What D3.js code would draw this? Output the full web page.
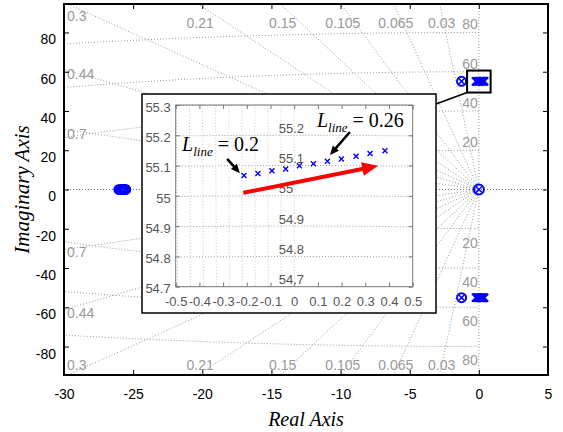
<!DOCTYPE html>
<html>
<head>
<meta charset="utf-8">
<script src="https://cdn.jsdelivr.net/npm/d3@7"></script>
<style>
  body { margin: 0; background: #fff; }
  text { font-family: "Liberation Sans", Arial, sans-serif; }
</style>
</head>
<body>
<svg id="chart" width="563" height="432"></svg>
<script>
// swept eigenvalues (L_line 0.2 -> 0.26)
const lineRe = [-0.212, -0.153, -0.094, -0.036, 0.022, 0.081, 0.140, 0.199, 0.261, 0.320, 0.383];
const lineIm = [55.067, 55.074, 55.083, 55.089, 55.099, 55.106, 55.114, 55.122, 55.131, 55.140, 55.149];
// real pole cluster on the left
const farRe = [-26.05, -25.97, -25.9, -25.84, -25.78, -25.73, -25.68, -25.64, -25.6, -25.56, -25.52];
// pole/zero pairs
const pzRe = [-1.25, -1.25, 0];
const pzIm = [55.1, -55.1, 0];

const zetaVals = [0.03, 0.065, 0.105, 0.15, 0.21, 0.3, 0.44, 0.7];
const wnVals = [20, 40, 60, 80];
const xTicks = [-30, -25, -20, -15, -10, -5, 0, 5];
const yTicks = [-80, -60, -40, -20, 0, 20, 40, 60, 80];

const insetXTicks = [-0.5, -0.4, -0.3, -0.2, -0.1, 0, 0.1, 0.2, 0.3, 0.4, 0.5];
const insetXLabels = ["-0.5", "-0.4", "-0.3", "-0.2", "-0.1", "0", "0.1", "0.2", "0.3", "0.4", "0.5"];
const insetYTicks = [54.7, 54.8, 54.9, 55, 55.1, 55.2, 55.3];
const insetYLabels = ["54.7", "54.8", "54.9", "55", "55.1", "55.2", "55.3"];
const insetZeta = [0, 0.001, 0.002, 0.003, 0.004, 0.005, 0.006, 0.007, 0.008, 0.009];
const insetWnLabels = ["54.7", "54.8", "54.9", "55", "55.1", "55.2"];

// zoom rectangle on the main plot
const boxRe = [-0.85, 0.85];
const boxIm = [49.4, 60.6];

// annotations in the inset (data coords)
const redArrow = [[-0.215, 55.010], [0.354, 55.099]];
const arrowA = [[-0.283, 55.122], [-0.229, 55.075]];
const arrowB = [[0.235, 55.211], [0.151, 55.135]];
const textA = { re: -0.473, im: 55.148, value: "0.2" };
const textB = { re: 0.096, im: 55.227, value: "0.26" };

const svg = d3.select("#chart");
const M = { left: 64, right: 548, top: 4, bottom: 375 };

const x = d3.scaleLinear().domain([-30, 5]).range([M.left, M.right]);
const y = d3.scaleLinear().domain([-94.5, 94.5]).range([M.bottom, M.top]);

const defs = svg.append("defs");
defs.append("clipPath").attr("id", "clipMain").append("rect")
  .attr("x", M.left).attr("y", M.top).attr("width", M.right - M.left).attr("height", M.bottom - M.top);

const grid = svg.append("g").attr("clip-path", "url(#clipMain)")
  .attr("fill", "none").attr("stroke", "#999").attr("stroke-width", 1).attr("stroke-dasharray", "1,2");

// natural frequency circles
const arc = d3.range(90, 270.5, 0.5);
wnVals.forEach(wn => {
  grid.append("path")
    .attr("d", d3.line()(arc.map(a => [x(wn * Math.cos(a * Math.PI / 180)), y(wn * Math.sin(a * Math.PI / 180))])));
});
// damping lines
zetaVals.forEach(z => {
  const R = 400, s = Math.sqrt(1 - z * z);
  [1, -1].forEach(sg => {
    grid.append("line").attr("x1", x(0)).attr("y1", y(0))
      .attr("x2", x(-R * z)).attr("y2", y(sg * R * s));
  });
});
grid.append("line").attr("x1", x(-30)).attr("x2", x(5)).attr("y1", y(0)).attr("y2", y(0)).attr("stroke", "#777");
grid.append("line").attr("x1", x(0)).attr("x2", x(0)).attr("y1", y(-94.5)).attr("y2", y(94.5));

// sgrid labels
const lab = svg.append("g").attr("fill", "#999").style("font-size", "14px");
zetaVals.forEach(z => {
  const s = Math.sqrt(1 - z * z) / z;
  const xTop = -94.5 / s;
  const yLeft = 30 * s;
  const t = String(z);
  if (xTop > -28.5) {
    lab.append("text").attr("x", x(xTop) + 2).attr("y", M.top + 19).attr("dy", "0.35em").attr("text-anchor", "middle").text(t);
    lab.append("text").attr("x", x(xTop) + 2).attr("y", M.bottom - 10).attr("dy", "0.35em").attr("text-anchor", "middle").text(t);
  } else if (yLeft > 90) {
    lab.append("text").attr("x", M.left + 3).attr("y", M.top + 12).attr("dy", "0.35em").text(t);
    lab.append("text").attr("x", M.left + 3).attr("y", M.bottom - 10).attr("dy", "0.35em").text(t);
  } else {
    lab.append("text").attr("x", M.left + 3).attr("y", y(yLeft) + 5).attr("dy", "0.35em").text(t);
    lab.append("text").attr("x", M.left + 3).attr("y", y(-yLeft) + 3).attr("dy", "0.35em").text(t);
  }
});
wnVals.forEach(wn => {
  lab.append("text").attr("x", x(0) - 1).attr("y", y(wn) - 8).attr("dy", "0.35em").attr("text-anchor", "end").text(wn);
  lab.append("text").attr("x", x(0) - 1).attr("y", y(-wn) + 14).attr("dy", "0.35em").attr("text-anchor", "end").text(wn);
});

// markers
const blue = "#0000ff";
const marks = svg.append("g").attr("fill", "none").attr("stroke", blue);
function xMark(g, cx, cy, h, w) {
  g.append("path").attr("d", `M${cx - h},${cy - h}L${cx + h},${cy + h}M${cx - h},${cy + h}L${cx + h},${cy - h}`)
    .attr("stroke-width", w);
}
lineRe.forEach((re, i) => {
  xMark(marks, x(re), y(lineIm[i]), 4, 2);
  xMark(marks, x(re), y(-lineIm[i]), 4, 2);
});
pzRe.forEach((re, i) => {
  const r = i === 2 ? 5 : 4.5;
  marks.append("circle").attr("cx", x(re)).attr("cy", y(pzIm[i])).attr("r", r).attr("stroke-width", 2);
  xMark(marks, x(re), y(pzIm[i]), r * 0.6, 1.5);
});
farRe.forEach(re => {
  marks.append("circle").attr("cx", x(re)).attr("cy", y(0)).attr("r", 4.5).attr("stroke-width", 1.6);
});

// zoom box and connector
svg.append("rect")
  .attr("x", x(boxRe[0])).attr("y", y(boxIm[1]))
  .attr("width", x(boxRe[1]) - x(boxRe[0])).attr("height", y(boxIm[0]) - y(boxIm[1]))
  .attr("fill", "none").attr("stroke", "#000").attr("stroke-width", 2);

const IB = { left: 142, top: 94, right: 436, bottom: 313 };
svg.append("line").attr("x1", x(boxRe[0])).attr("y1", y(boxIm[0]))
  .attr("x2", IB.right).attr("y2", 104).attr("stroke", "#000").attr("stroke-width", 1.8);

// main frame + axes
svg.append("g").attr("transform", `translate(0,${M.bottom})`)
  .call(d3.axisBottom(x).tickValues(xTicks).tickSize(-5).tickPadding(14).tickFormat(d => String(d)))
  .call(g => g.select(".domain").remove())
  .call(g => g.selectAll("text").style("font-size", "14px").attr("fill", "#000"));
svg.append("g").attr("transform", `translate(0,${M.top})`)
  .call(d3.axisTop(x).tickValues(xTicks).tickSize(-5).tickFormat(""))
  .call(g => g.select(".domain").remove());
svg.append("g").attr("transform", `translate(${M.left},0)`)
  .call(d3.axisLeft(y).tickValues(yTicks).tickSize(-5).tickPadding(8).tickFormat(d => String(d)))
  .call(g => g.select(".domain").remove())
  .call(g => g.selectAll("text").style("font-size", "14px").attr("fill", "#000").attr("y", 7));
svg.append("g").attr("transform", `translate(${M.right},0)`)
  .call(d3.axisRight(y).tickValues(yTicks).tickSize(-5).tickFormat(""))
  .call(g => g.select(".domain").remove());
svg.append("rect").attr("x", M.left).attr("y", M.top)
  .attr("width", M.right - M.left).attr("height", M.bottom - M.top)
  .attr("fill", "none").attr("stroke", "#000").attr("stroke-width", 2);

svg.append("text").attr("x", (M.left + M.right) / 2).attr("y", 426)
  .attr("text-anchor", "middle").style("font-family", "'Liberation Serif', 'Times New Roman', serif")
  .style("font-style", "italic").style("font-size", "20px").text("Real Axis");
svg.append("text").attr("transform", `translate(29,${(M.top + M.bottom) / 2}) rotate(-90)`)
  .attr("text-anchor", "middle").style("font-family", "'Liberation Serif', 'Times New Roman', serif")
  .style("font-style", "italic").style("font-size", "21px").text("Imaginary Axis");

// ---- inset ----
svg.append("rect").attr("x", IB.left).attr("y", IB.top)
  .attr("width", IB.right - IB.left).attr("height", IB.bottom - IB.top)
  .attr("fill", "#fff").attr("stroke", "#000").attr("stroke-width", 1.5);

const IA = { left: 175.7, right: 412.7, top: 105, bottom: 286.7 };
const xi = d3.scaleLinear().domain([-0.5, 0.5]).range([IA.left, IA.right]);
const yi = d3.scaleLinear().domain([54.7, 55.3]).range([IA.bottom, IA.top]);

defs.append("clipPath").attr("id", "clipInset").append("rect")
  .attr("x", IA.left).attr("y", IA.top).attr("width", IA.right - IA.left).attr("height", IA.bottom - IA.top);

const igrid = svg.append("g").attr("clip-path", "url(#clipInset)")
  .attr("fill", "none").attr("stroke-width", 1).attr("stroke-dasharray", "1,2");
const narrow = d3.range(89, 91.001, 0.02);
insetYTicks.forEach(wn => {
  igrid.append("path").attr("stroke", "#999")
    .attr("d", d3.line()(narrow.map(a => [xi(wn * Math.cos(a * Math.PI / 180)), yi(wn * Math.sin(a * Math.PI / 180))])));
});
insetZeta.forEach(z => {
  const R = 60;
  igrid.append("line").attr("stroke", "#c8c8c8")
    .attr("x1", xi(0)).attr("y1", yi(0)).attr("x2", xi(-R * z)).attr("y2", yi(R * Math.sqrt(1 - z * z)));
});

const ilab = svg.append("g").attr("fill", "#555").style("font-size", "13px");
insetWnLabels.forEach(t => {
  ilab.append("text").attr("x", xi(-0.065)).attr("y", yi(+t) - 7).attr("dy", "0.35em").text(t);
});

const insetAxis = g => g.call(s => s.select(".domain").remove())
  .call(s => s.selectAll("line").attr("stroke", "#777"))
  .call(s => s.selectAll("text").style("font-size", "13px").attr("fill", "#555"));
svg.append("g").attr("transform", `translate(0,${IA.bottom})`)
  .call(d3.axisBottom(xi).tickValues(insetXTicks).tickSize(-4).tickPadding(10).tickFormat((d, i) => insetXLabels[i]))
  .call(insetAxis);
svg.append("g").attr("transform", `translate(0,${IA.top})`)
  .call(d3.axisTop(xi).tickValues(insetXTicks).tickSize(-4).tickFormat(""))
  .call(insetAxis);
svg.append("g").attr("transform", `translate(${IA.left},0)`)
  .call(d3.axisLeft(yi).tickValues(insetYTicks).tickSize(-4).tickPadding(5).tickFormat((d, i) => insetYLabels[i]))
  .call(insetAxis)
  .call(g => g.selectAll("text").attr("y", 2));
svg.append("g").attr("transform", `translate(${IA.right},0)`)
  .call(d3.axisRight(yi).tickValues(insetYTicks).tickSize(-4).tickFormat(""))
  .call(insetAxis);
svg.append("rect").attr("x", IA.left).attr("y", IA.top)
  .attr("width", IA.right - IA.left).attr("height", IA.bottom - IA.top)
  .attr("fill", "none").attr("stroke", "#777").attr("stroke-width", 1);

const imarks = svg.append("g").attr("fill", "none").attr("stroke", blue);
lineRe.forEach((re, i) => xMark(imarks, xi(re), yi(lineIm[i]), 2.5, 1.4));

function arrow(p, color, width, headLen, headW) {
  const x1 = xi(p[0][0]), y1 = yi(p[0][1]), x2 = xi(p[1][0]), y2 = yi(p[1][1]);
  const L = Math.hypot(x2 - x1, y2 - y1), ux = (x2 - x1) / L, uy = (y2 - y1) / L;
  const bx = x2 - ux * headLen, by = y2 - uy * headLen;
  svg.append("line").attr("x1", x1).attr("y1", y1).attr("x2", bx + ux).attr("y2", by + uy)
    .attr("stroke", color).attr("stroke-width", width);
  svg.append("path")
    .attr("d", `M${x2},${y2}L${bx - uy * headW / 2},${by + ux * headW / 2}L${bx + uy * headW / 2},${by - ux * headW / 2}Z`)
    .attr("fill", color);
}
arrow(redArrow, "#ff0000", 4, 16, 14);
arrow(arrowA, "#000", 2.5, 9, 8);
arrow(arrowB, "#000", 2.5, 9, 8);

[textA, textB].forEach(t => {
  const tx = svg.append("text").attr("x", xi(t.re)).attr("y", yi(t.im))
    .style("font-family", "'Liberation Serif', 'Times New Roman', serif").style("font-size", "20px").attr("fill", "#000");
  tx.append("tspan").style("font-style", "italic").text("L");
  tx.append("tspan").style("font-style", "italic").style("font-size", "13px").attr("dy", 5).text("line");
  tx.append("tspan").attr("dy", -5).text(" = " + t.value);
});
</script>
</body>
</html>
